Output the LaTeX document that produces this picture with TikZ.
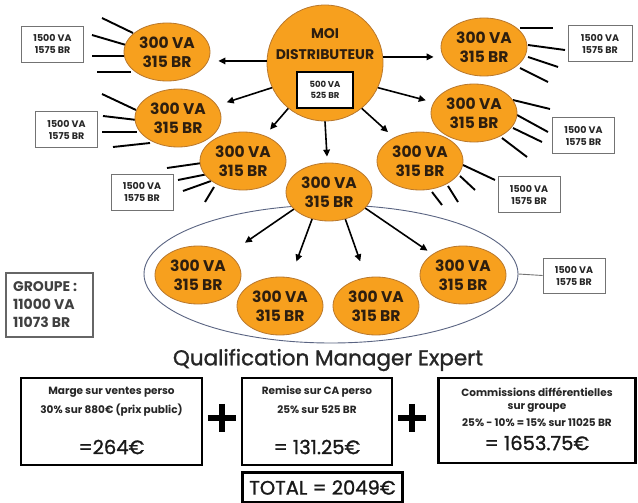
\documentclass[tikz,border=0pt]{standalone}
\usepackage{fontspec}
\setmainfont{Poppins}
\newfontfamily\medfont[FakeBold=1.2]{Poppins}
\usetikzlibrary{shapes.geometric,arrows.meta}
\definecolor{orng}{RGB}{247,160,30}
\definecolor{orngline}{RGB}{185,120,45}
\definecolor{txt}{RGB}{45,30,15}
\definecolor{grpline}{RGB}{90,100,130}
\tikzset{
  pers/.style={ellipse, fill=orng, draw=orngline, line width=0.8pt, minimum width=86pt, minimum height=58pt, inner sep=0pt, font=\bfseries\fontsize{15.5}{19}\selectfont, text=txt, align=center},
  smallbox/.style={draw=black!55, line width=0.9pt, minimum width=62pt, minimum height=36pt, inner sep=0pt, font=\bfseries\fontsize{9.5}{12}\selectfont, align=center, text=black!85},
  arr/.style={-{Triangle[length=7pt,width=6.5pt]}, line width=1.6pt},
  ray/.style={line width=1.9pt},
  calcbox/.style={draw, line width=2.2pt, minimum height=87pt, inner sep=0pt},
  calctxt/.style={font=\bfseries\fontsize{10.5}{12}\selectfont, text=black!85, inner sep=0pt},
  calcval/.style={font=\medfont\fontsize{19.5}{22}\selectfont, text=black!90, inner sep=0pt},
  plusnode/.style={minimum size=28pt, inner sep=0pt}
}
\begin{document}
\begin{tikzpicture}[x=1pt,y=-1pt]
\useasboundingbox[fill=white] (0,0) rectangle (638,503);

% group ellipse
\node[ellipse, draw=grpline, line width=0.9pt, minimum width=374pt, minimum height=138pt, inner sep=0pt] (grp) at (331,274) {};

% rays
\foreach \a/\b in {{(102,18)}/{(133,33)},{(92,35)}/{(126,45)},{(92,56)}/{(126,56)},{(97,72)}/{(131,72)},
  {(102,94)}/{(136,110)},{(103,116)}/{(137,120)},{(102,132)}/{(137,132)},{(113,147)}/{(150,143)},
  {(167,168)}/{(202,163)},{(178,180)}/{(208,174)},{(183,191)}/{(211,181)},{(205,202)}/{(214,187)},
  {(520,28)}/{(553,28)},{(528,45)}/{(565,50)},{(528,57)}/{(558,67)},{(520,68)}/{(548,82)},
  {(513,100)}/{(550,109)},{(517,115)}/{(548,132)},{(513,128)}/{(542,142)},{(502,138)}/{(527,157)},
  {(463,165)}/{(495,180)},{(460,176)}/{(475,190)},{(448,186)}/{(458,202)},{(432,192)}/{(442,205)}}
  \draw[ray] \a -- \b;

% distributor
\node[circle, fill=orng, draw=orngline, line width=0.8pt, minimum size=116pt, inner sep=0pt] (moi) at (325,63) {};
\node[font=\bfseries\fontsize{14}{21}\selectfont, text=txt, align=center, inner sep=0pt] (moitxt) at (325,44) {MOI\\DISTRIBUTEUR};
\node[draw=black, fill=white, line width=1.3pt, minimum width=56pt, minimum height=36pt, inner sep=0pt, font=\bfseries\fontsize{8.5}{11.5}\selectfont, align=center, text=black!85] (moibox) at (325,90) {500 VA\\525 BR};

% persons
\node[pers] (l1) at (167,52) {300 VA\\315 BR};
\node[pers] (l2) at (178,118) {300 VA\\315 BR};
\node[pers] (l3) at (243,161) {300 VA\\315 BR};
\node[pers] (c) at (329,192) {300 VA\\315 BR};
\node[pers] (r3) at (420,161) {300 VA\\315 BR};
\node[pers] (r2) at (474,113) {300 VA\\315 BR};
\node[pers] (r1) at (484,47) {300 VA\\315 BR};
\node[pers] (b1) at (198,275) {300 VA\\315 BR};
\node[pers] (b2) at (280,306) {300 VA\\315 BR};
\node[pers] (b3) at (376,306) {300 VA\\315 BR};
\node[pers] (b4) at (463,275) {300 VA\\315 BR};

% arrows from distributor
\draw[arr, shorten >=8pt] (moi.178) -- (moi.178 -| l1.east);
\draw[arr, shorten >=10pt] (moi.205) -- (l2);
\draw[arr, shorten >=8pt] (moi.231) -- (l3);
\draw[arr, shorten >=6pt] (moi.270) -- (c);
\draw[arr, shorten >=8pt] (moi.309) -- (r3);
\draw[arr, shorten >=8pt] (moi.335) -- (r2);
\draw[arr, shorten >=7pt] (moi.6) -- (moi.6 -| r1.west);

% arrows from centre person
\draw[arr, shorten >=20pt] (c.206) -- (b1);
\draw[arr, shorten >=17pt] (c.238) -- (b2);
\draw[arr, shorten >=17pt] (c.301) -- (b3);
\draw[arr, shorten >=6pt] (c.336) -- (b4);

% small boxes
\node[smallbox] (s1) at (52.5,44) {1500 VA\\1575 BR};
\node[smallbox] (s2) at (66.5,129.5) {1500 VA\\1575 BR};
\node[smallbox] (s3) at (142,192) {1500 VA\\1575 BR};
\node[smallbox, minimum width=64pt] (s4) at (600,43.5) {1500 VA\\1575 BR};
\node[smallbox] (s5) at (583.5,135.5) {1500 VA\\1575 BR};
\node[smallbox] (s6) at (529,194.5) {1500 VA\\1575 BR};
\node[smallbox, minimum height=35pt] (s7) at (574,275.5) {1500 VA\\1575 BR};
\draw[draw=black!55, line width=0.9pt] (grp.east) -- (s7.west);

% group total
\node[draw=black!60, line width=1.8pt, minimum width=87pt, minimum height=64pt, inner sep=0pt] (gbox) at (49.5,305) {};
\node[font=\bfseries\fontsize{14}{18}\selectfont, text=black!75, align=left, inner sep=0pt, anchor=west] (gtxt) at (13,305) {GROUPE :\\11000 VA\\11073 BR};

% title
\node[font=\medfont\fontsize{21.5}{24}\selectfont, text=black!85, inner sep=0pt] (title) at (328,360) {Qualification Manager Expert};

% calculation boxes
\node[calcbox, minimum width=181pt] (k1) at (111.5,421.5) {};
\node[calctxt] (k1a) at (111.5,392) {Marge sur ventes perso};
\node[calctxt] (k1b) at (111.5,410) {30\% sur 880€ (prix public)};
\node[calcval] (k1v) at (111.5,447) {=264€};

\node[calcbox, minimum width=150pt] (k2) at (317,421.5) {};
\node[calctxt] (k2a) at (317,392) {Remise sur CA perso};
\node[calctxt] (k2b) at (317,410) {25\% sur 525 BR};
\node[calcval] (k2v) at (317,447) {= 131.25€};

\node[calcbox, minimum width=197pt, minimum height=85pt] (k3) at (537,420.5) {};
\node[calctxt] (k3a) at (537,392) {Commissions différentielles};
\node[calctxt] (k3b) at (537,408) {sur groupe};
\node[calctxt] (k3c) at (537,423) {25\% - 10\% = 15\% sur 11025 BR};
\node[calcval] (k3v) at (537,443) {= 1653.75€};

% plus signs
\node[plusnode] (p1) at (222,418) {};
\draw[line width=6.5pt] (p1.west) -- (p1.east) (p1.north) -- (p1.south);
\node[plusnode] (p2) at (412,418) {};
\draw[line width=6.5pt] (p2.west) -- (p2.east) (p2.north) -- (p2.south);

% total
\node[draw, line width=2.2pt, minimum width=160pt, minimum height=30pt, inner sep=0pt, font=\medfont\fontsize{19.5}{22}\selectfont, text=black!90] (tot) at (322.5,487.5) {TOTAL = 2049€};
\end{tikzpicture}
\end{document}
